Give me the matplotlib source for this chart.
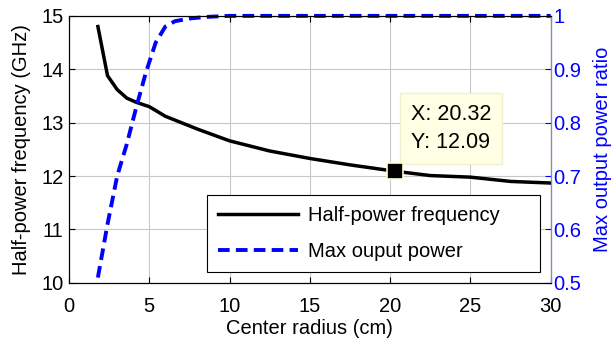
import matplotlib
matplotlib.use("Agg")
import matplotlib.pyplot as plt

# data
radius_f = [1.8, 2.4, 3.0, 3.6, 4.2, 5.0, 6.0, 8.0, 10, 12.5, 15, 17.5, 20.32, 22.5, 25, 27.5, 30]
half_power = [14.8, 13.88, 13.62, 13.46, 13.38, 13.30, 13.12, 12.88, 12.66, 12.47, 12.33, 12.21,
              12.09, 12.01, 11.98, 11.9, 11.87]
radius_p = [1.8, 2.4, 3.0, 3.6, 4.2, 4.8, 5.4, 6.0, 6.6, 7.5, 8.5, 10, 15, 20, 25, 30]
power_ratio = [0.51, 0.61, 0.70, 0.76, 0.83, 0.895, 0.95, 0.98, 0.99, 0.995, 0.998, 1.0, 1.0, 1.0, 1.0, 1.0]
tip_x, tip_y = 20.32, 12.09

plt.rcParams["font.family"] = ["Liberation Sans", "DejaVu Sans"]
fs = 14.5

fig = plt.figure(figsize=(6.16, 3.45), dpi=100)
ax = fig.add_axes([0.112, 0.18, 0.782, 0.774])
ax2 = ax.twinx()

l1, = ax.plot(radius_f, half_power, color="black", lw=2.5, label="Half-power frequency")
l2, = ax2.plot(radius_p, power_ratio, color="#0000ff", lw=2.8, ls=(0, (3, 1.6)),
               label="Max ouput power", clip_on=False)

ax.set_xlim(0, 30)
ax.set_ylim(10, 15)
ax2.set_ylim(0.5, 1)
ax.set_xticks(range(0, 31, 5))
ax.set_yticks(range(10, 16))
ax2.set_yticks([0.5, 0.6, 0.7, 0.8, 0.9, 1])
ax2.set_yticklabels(["0.5", "0.6", "0.7", "0.8", "0.9", "1"])

ax.grid(True, color="#c8c8c8", lw=0.8)
ax.tick_params(direction="in", top=True, labelsize=fs, length=4, pad=4)
ax.tick_params(axis="x", pad=10)
ax2.tick_params(direction="in", labelsize=fs, colors="#0000ff", length=4, pad=2)
ax2.spines["right"].set_color("#8080ff")
ax.set_xlabel("Center radius (cm)", fontsize=fs, labelpad=2)
ax.set_ylabel("Half-power frequency (GHz)", fontsize=fs, labelpad=7)
ax2.set_ylabel("Max output power ratio", fontsize=fs, color="#0000ff", labelpad=8)

# data tip
ax.plot([tip_x], [tip_y], marker="s", ms=12, color="black", mec="#ffffc8", mew=1.2,
        zorder=5, clip_on=False)
ax.annotate("X: 20.32\nY: 12.09", xy=(tip_x, tip_y), xytext=(11, 13), textcoords="offset points",
            fontsize=15.5, linespacing=1.45, va="bottom", ha="left", zorder=4,
            bbox=dict(boxstyle="square,pad=0.5", fc="#ffffe6", ec="#f0f0d0"))

leg = ax2.legend(handles=[l1, l2], loc="lower left", bbox_to_anchor=(0.286, 0.041, 0.691, 0.289),
                 mode="expand", fontsize=fs, handlelength=4.0, handletextpad=0.5, borderpad=0.55,
                 labelspacing=0.85, borderaxespad=0,
                 fancybox=False, framealpha=1, edgecolor="black")
leg.get_frame().set_linewidth(0.8)

fig.savefig("out.png", dpi=100)
